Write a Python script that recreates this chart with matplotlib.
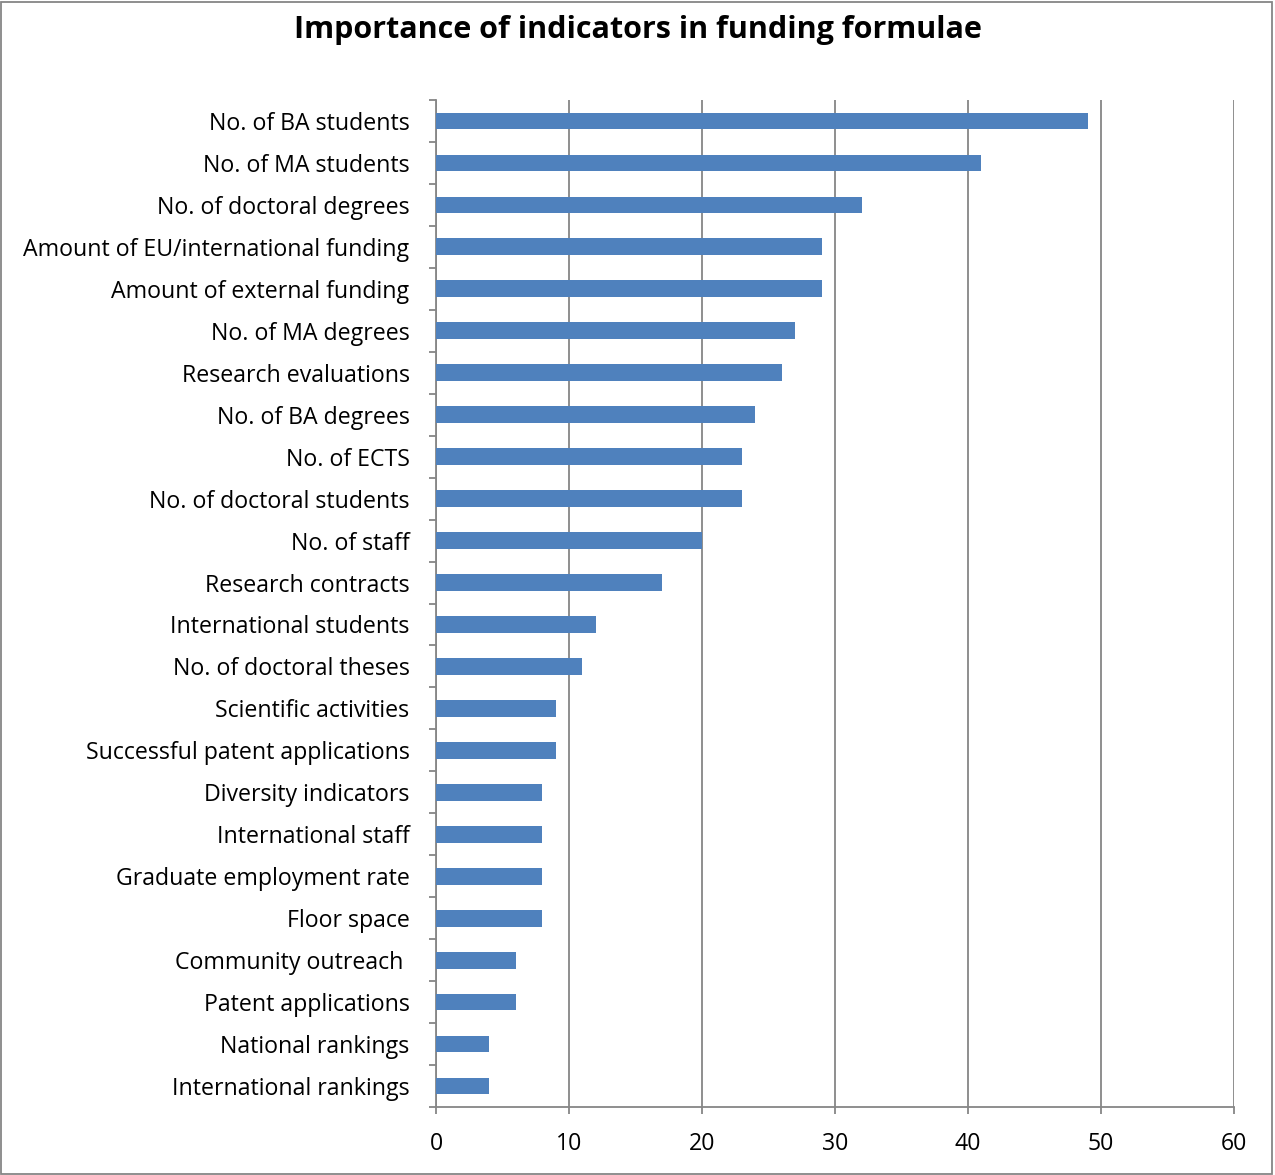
import numpy as np
import matplotlib.pyplot as plt
from matplotlib.patches import Rectangle

# Indicators (top to bottom as shown)
indicators = [
    "No. of BA students",
    "No. of MA students",
    "No. of doctoral degrees",
    "Amount of EU/international funding",
    "Amount of external funding",
    "No. of MA degrees",
    "Research evaluations",
    "No. of BA degrees",
    "No. of ECTS",
    "No. of doctoral students",
    "No. of staff",
    "Research contracts",
    "International students",
    "No. of doctoral theses",
    "Scientific activities",
    "Successful patent applications",
    "Diversity indicators",
    "International staff",
    "Graduate employment rate",
    "Floor space",
    "Community outreach ",
    "Patent applications",
    "National rankings",
    "International rankings",
]
counts = [49, 41, 32, 29, 29, 27, 26, 24, 23, 23, 20, 17, 12, 11,
          9, 9, 8, 8, 8, 8, 6, 6, 4, 4]
x_ticks = [0, 10, 20, 30, 40, 50, 60]

plt.rcParams["font.family"] = ["Open Sans", "DejaVu Sans"]

fig = plt.figure(figsize=(12.75, 11.75), dpi=100)
ax = fig.add_axes([436 / 1275, 68 / 1175, 798 / 1275, 1007 / 1175])

n = len(indicators)
pos = np.arange(n)[::-1]

ax.barh(pos, counts, height=0.4, color="#4F81BD", edgecolor="none", zorder=3)

ax.set_xlim(0, 60)
ax.set_ylim(-0.5, n - 0.5)
ax.set_xticks(x_ticks)
ax.xaxis.grid(True, color="#868686", linewidth=1.3, zorder=0)

# category boundary ticks on the y axis, labels centred on the bars
ax.set_yticks(np.arange(n + 1) - 0.5)
ax.set_yticklabels([])
ax.set_yticks(pos, labels=indicators, minor=True)
ax.tick_params(axis="y", which="major", length=5, color="#868686", width=1.3)
ax.tick_params(axis="y", which="minor", length=0, pad=19, labelsize=16.7)
ax.tick_params(axis="x", length=5, color="#868686", width=1.3, labelsize=16.7, pad=13)

for s in ["top", "right"]:
    ax.spines[s].set_visible(False)
for s in ["left", "bottom"]:
    ax.spines[s].set_color("#868686")
    ax.spines[s].set_linewidth(1.3)

fig.text(0.5, 1 - 30 / 1175, "Importance of indicators in funding formulae",
         ha="center", va="center", fontsize=22, fontweight="bold")

fig.patches.append(Rectangle((0.001, 0.001), 0.997, 0.997, transform=fig.transFigure,
                             fill=False, edgecolor="#868686", linewidth=1.3))

plt.savefig("out.png", dpi=100)
plt.close()
